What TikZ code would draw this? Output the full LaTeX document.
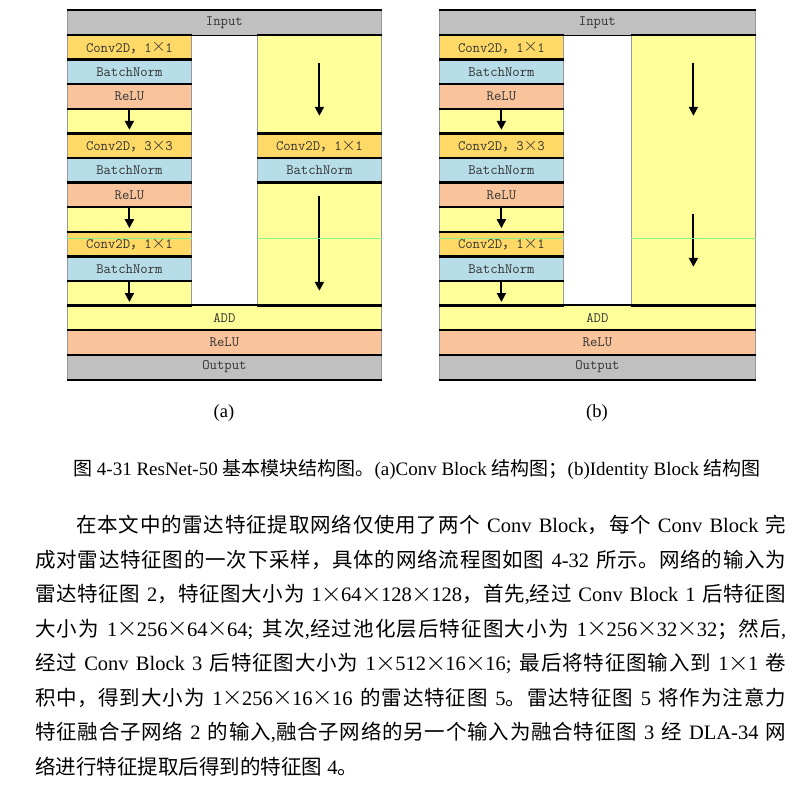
\documentclass[tikz,border=0pt]{standalone}
\usepackage{fontspec}
\usepackage{amsmath}
\usetikzlibrary{arrows.meta, calc}
\setmainfont{Liberation Serif}
\newfontfamily\cjk{Noto Sans CJK SC}
\definecolor{inGray}{HTML}{C0C0C0}
\definecolor{convOr}{HTML}{FFD966}
\definecolor{bnBlue}{HTML}{B7DDE8}
\definecolor{reluPk}{HTML}{F9C49C}
\definecolor{passYl}{HTML}{FFFF99}
\definecolor{seamGr}{HTML}{8CF08C}
\newcommand{\tm}{\makebox[0.95em]{\raisebox{0.02em}{\scalebox{1.3}{$\times$}}}}
\newcommand{\boxfont}{\ttfamily\fontsize{14.3pt}{16pt}\selectfont}
\XeTeXlinebreaklocale "zh"
\XeTeXlinebreakskip=0pt plus 1pt

\begin{document}
\begin{tikzpicture}[x=1pt, y=-1pt,
    lyr/.style={fill=#1, draw=gray!80, line width=0.8pt, minimum width=124pt,
      minimum height=24.6pt, inner sep=0pt, anchor=north west,
      font=\boxfont, text=black!80},
    sep/.style={line width=1.6pt},
    arr/.style={-{Triangle[width=9pt,length=9pt]}, line width=2pt},
    seam/.style={seamGr, line width=0.7pt}]
\useasboundingbox (0,0) rectangle (811,808);

% main path, same in (a) and (b)
\foreach \d/\ox/\fw in {a/67/314, b/439/316} {
  \node[lyr=inGray, minimum width={\fw*1pt}] (\d-in) at (\ox,10) {Input};
  \node[lyr=convOr] (\d-c1) at (\ox,34.6) {Conv2D{\cjk ，}1\tm 1};
  \node[lyr=bnBlue] (\d-b1) at (\ox,59.2) {BatchNorm};
  \node[lyr=reluPk] (\d-r1) at (\ox,83.8) {ReLU};
  \node[lyr=passYl] (\d-p1) at (\ox,108.4) {};
  \node[lyr=convOr] (\d-c2) at (\ox,133) {Conv2D{\cjk ，}3\tm 3};
  \node[lyr=bnBlue] (\d-b2) at (\ox,157.6) {BatchNorm};
  \node[lyr=reluPk] (\d-r2) at (\ox,182.2) {ReLU};
  \node[lyr=passYl] (\d-p2) at (\ox,206.8) {};
  \node[lyr=convOr] (\d-c3) at (\ox,231.4) {Conv2D{\cjk ，}1\tm 1};
  \node[lyr=bnBlue] (\d-b3) at (\ox,256) {BatchNorm};
  \node[lyr=passYl] (\d-p3) at (\ox,280.6) {};
  \node[lyr=passYl, minimum width={\fw*1pt}] (\d-add) at (\ox,305.2) {ADD};
  \node[lyr=reluPk, minimum width={\fw*1pt}] (\d-r4) at (\ox,329.8) {ReLU};
  \node[lyr=inGray, minimum width={\fw*1pt}] (\d-out) at (\ox,354.4) {Output};
}

% shortcut of the conv block
\node[lyr=passYl, minimum height=98.4pt] (a-q1) at (257,34.6) {};
\node[lyr=convOr] (a-c4) at (257,133) {Conv2D{\cjk ，}1\tm 1};
\node[lyr=bnBlue] (a-b4) at (257,157.6) {BatchNorm};
\node[lyr=passYl, minimum height=123pt] (a-rt) at (257,182.2) {};
% shortcut of the identity block
\node[lyr=passYl, minimum height=270.6pt] (b-rt) at (631,34.6) {};

\foreach \d in {a,b}
  \foreach \n in {in,c1,b1,r1,p1,c2,b2,r2,p2,c3,b3,p3,add,r4,out,rt}
    \draw[sep] (\d-\n.north west) -- (\d-\n.north east) (\d-\n.south west) -- (\d-\n.south east);
\foreach \n in {q1,c4,b4}
  \draw[sep] (a-\n.north west) -- (a-\n.north east) (a-\n.south west) -- (a-\n.south east);

\foreach \d in {a,b}
  \foreach \n in {p1,p2,p3}
    \draw[arr] ([yshift=-0.6pt]\d-\n.north) -- ([yshift=4pt]\d-\n.south);
\draw[arr] ([yshift=-28.4pt]a-q1.north) -- ([yshift=18pt]a-q1.south);
\draw[arr] ([yshift=-13.8pt]a-rt.north) -- ([yshift=15.2pt]a-rt.south);
\draw[arr] ([yshift=-28.4pt]b-rt.north) -- ([yshift=190.2pt]b-rt.south);
\draw[arr] ([yshift=-179.4pt]b-rt.north) -- ([yshift=39.2pt]b-rt.south);

\foreach \d in {a,b} {
  \coordinate (\d-sm) at ([yshift=-6.9pt]\d-c3.north west);
  \draw[seam] (\d-sm) -- (\d-sm -| \d-c3.east) (\d-sm -| \d-rt.west) -- (\d-sm -| \d-rt.east);
}

\node[anchor=base, font=\fontsize{18.5pt}{20pt}\selectfont] (a-lbl) at (224,417) {(a)};
\node[anchor=base, font=\fontsize{18.5pt}{20pt}\selectfont] (b-lbl) at (597,417) {(b)};

\node[anchor=base, font=\fontsize{19pt}{22pt}\selectfont] (cap) at (417,475)
  {{\cjk 图} 4-31 ResNet-50 {\cjk 基本模块结构图。}(a)Conv Block {\cjk 结构图；}(b)Identity Block {\cjk 结构图}};

\node[anchor=base west, text width=751pt, align=justify, inner sep=0pt,
  font=\fontsize{20.5pt}{34.5pt}\selectfont] (body) at (35,532.5) {%
\hspace*{2em}{\cjk 在本文中的雷达特征提取网络仅使用了两个} Conv Block{\cjk ，每个} Conv Block {\cjk 完}\linebreak
{\cjk 成对雷达特征图的一次下采样，具体的网络流程图如图} 4-32 {\cjk 所示。网络的输入为}\linebreak
{\cjk 雷达特征图} 2{\cjk ，特征图大小为} 1\tm 64\tm 128\tm 128{\cjk ，首先},{\cjk 经过} Conv Block 1 {\cjk 后特征图}\linebreak
{\cjk 大小为} 1\tm 256\tm 64\tm 64; {\cjk 其次},{\cjk 经过池化层后特征图大小为} 1\tm 256\tm 32\tm 32{\cjk ；然后},\linebreak
{\cjk 经过} Conv Block 3 {\cjk 后特征图大小为} 1\tm 512\tm 16\tm 16; {\cjk 最后将特征图输入到} 1\tm 1 {\cjk 卷}\linebreak
{\cjk 积中，得到大小为} 1\tm 256\tm 16\tm 16 {\cjk 的雷达特征图} 5{\cjk 。雷达特征图} 5 {\cjk 将作为注意力}\linebreak
{\cjk 特征融合子网络} 2 {\cjk 的输入},{\cjk 融合子网络的另一个输入为融合特征图} 3 {\cjk 经} DLA-34 {\cjk 网}\linebreak
{\cjk 络进行特征提取后得到的特征图} 4{\cjk 。}};
\end{tikzpicture}
\end{document}
